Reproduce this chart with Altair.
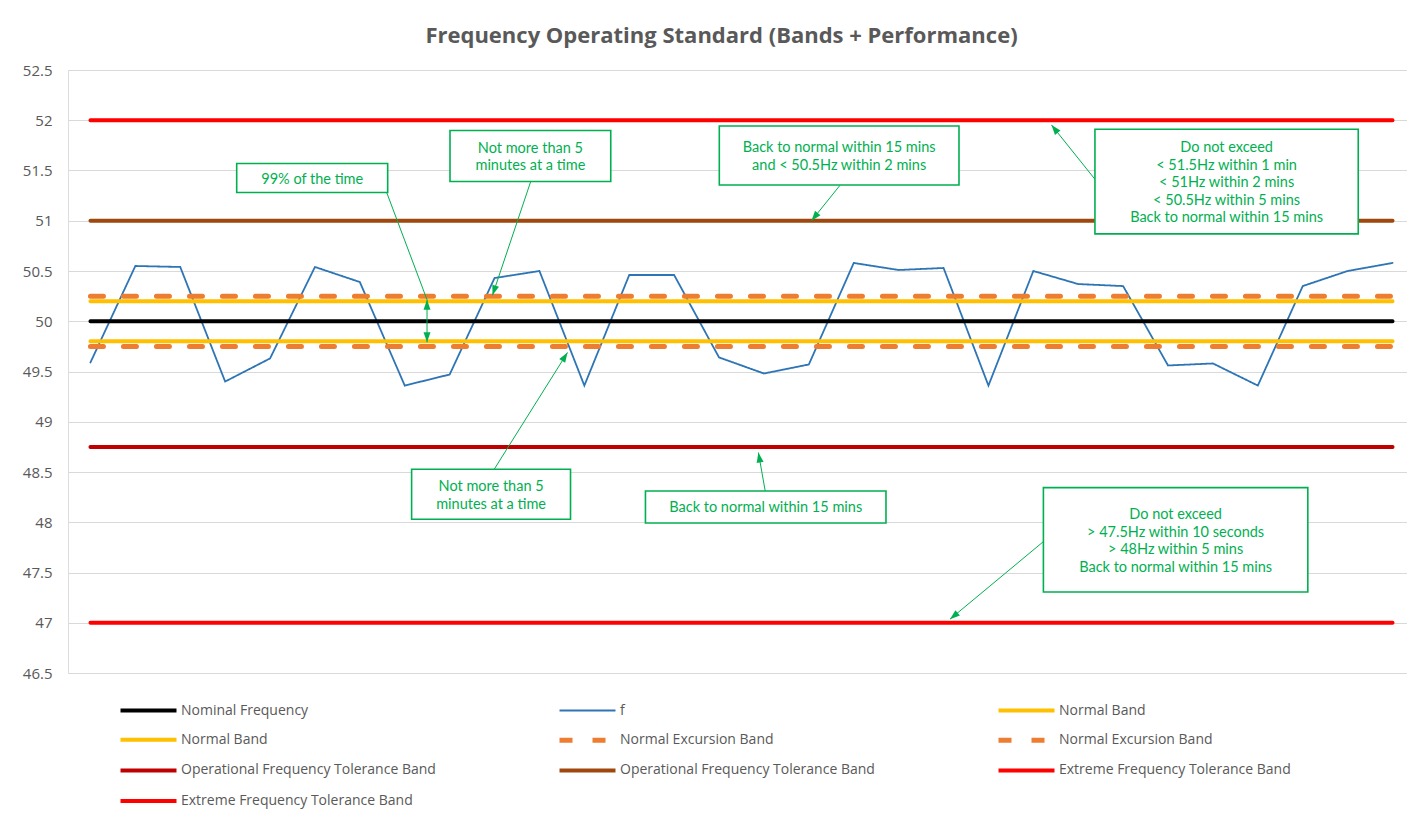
import math
import altair as alt
import pandas as pd

# ---------------- data ----------------
f_values = [49.59, 50.55, 50.54, 49.40, 49.63, 50.54, 50.39, 49.36, 49.47, 50.43,
            50.50, 49.36, 50.46, 50.46, 49.64, 49.48, 49.57, 50.58, 50.51, 50.53,
            49.36, 50.50, 50.37, 50.35, 49.56, 49.58, 49.36, 50.35, 50.50, 50.58]

series_keys = ["Nominal Frequency", "f", "Normal Band|1", "Normal Band|2",
               "Normal Excursion Band|1", "Normal Excursion Band|2",
               "Operational Frequency Tolerance Band|1", "Operational Frequency Tolerance Band|2",
               "Extreme Frequency Tolerance Band|1", "Extreme Frequency Tolerance Band|2"]
band_keys = ["Nominal Frequency", "Normal Band|1", "Normal Band|2",
             "Normal Excursion Band|1", "Normal Excursion Band|2",
             "Operational Frequency Tolerance Band|1", "Operational Frequency Tolerance Band|2",
             "Extreme Frequency Tolerance Band|1", "Extreme Frequency Tolerance Band|2"]
band_levels = [50.0, 50.2, 49.8, 50.25, 49.75, 48.75, 51.0, 52.0, 47.0]

series_colors = ["#000000", "#2E75B6", "#FFC000", "#FFC000", "#ED7D31", "#ED7D31",
                 "#C00000", "#9E480E", "#FF0000", "#FF0000"]
series_dash = [[1, 0], [1, 0], [1, 0], [1, 0], [13, 20], [13, 20],
               [1, 0], [1, 0], [1, 0], [1, 0]]
series_width = [4, 1.8, 4, 4, 5, 5, 4, 4, 4, 4]

y_ticks = [46.5, 47, 47.5, 48, 48.5, 49, 49.5, 50, 50.5, 51, 51.5, 52, 52.5]

# annotation boxes (x in category index units, y in Hz)
box_x1 = [3.257, 8.008, 14.006, 22.372, 7.153, 12.361, 21.224]
box_x2 = [6.620, 11.588, 19.344, 28.236, 10.692, 17.718, 27.113]
box_y1 = [51.569, 51.898, 51.943, 51.910, 48.527, 48.311, 48.345]
box_y2 = [51.281, 51.390, 51.356, 50.869, 48.030, 47.993, 47.306]
box_text = [
    "99% of the time",
    "Not more than 5\nminutes at a time",
    "Back to normal within 15 mins\nand < 50.5Hz within 2 mins",
    "Do not exceed\n< 51.5Hz within 1 min\n< 51Hz within 2 mins\n< 50.5Hz within 5 mins\nBack to normal within 15 mins",
    "Not more than 5\nminutes at a time",
    "Back to normal within 15 mins",
    "Do not exceed\n> 47.5Hz within 10 seconds\n> 48Hz within 5 mins\nBack to normal within 15 mins",
]

# arrows: start -> tip, head flag
arrow_x1 = [6.598, 7.496, 9.805, 16.694, 22.372, 8.992, 15.028, 21.215]
arrow_y1 = [51.281, 50.000, 51.390, 51.353, 51.413, 48.527, 48.311, 47.804]
arrow_x2 = [7.496, 7.496, 8.954, 16.059, 21.404, 10.625, 14.876, 19.143]
arrow_y2 = [50.214, 50.214, 50.259, 51.000, 51.953, 49.689, 48.694, 47.035]
arrow_head = [False, True, True, True, True, True, True, True]
# the double-headed arrow also points down
extra_head_x = [7.496]
extra_head_y = [49.790]
extra_head_from_y = [50.0]

PX_X = 44.9   # pixels per category (for arrow head orientation)
PX_Y = 100.5  # pixels per Hz
LINE_H = 17.5

# ---------------- frames ----------------
idx = list(range(len(f_values)))
f_df = pd.DataFrame({"i": idx, "v": f_values, "series": "f"})
band_rows = []
for k, lv in zip(band_keys, band_levels):
    for i in idx:
        band_rows.append({"i": i, "v": lv, "series": k})
band_df = pd.DataFrame(band_rows)

box_df = pd.DataFrame({"x1": box_x1, "x2": box_x2, "y1": box_y1, "y2": box_y2,
                       "text": box_text})
box_df["xc"] = (box_df.x1 + box_df.x2) / 2
nlines = box_df.text.str.count("\n")
box_df["yc"] = (box_df.y1 + box_df.y2) / 2 + nlines * LINE_H / 2 / PX_Y

arr_df = pd.DataFrame({"x1": arrow_x1, "y1": arrow_y1, "x2": arrow_x2, "y2": arrow_y2})


def head_angle(x1, y1, x2, y2):
    dx = (x2 - x1) * PX_X
    dy = -(y2 - y1) * PX_Y
    return math.degrees(math.atan2(dx, -dy)) % 360


heads = []
for x1, y1, x2, y2, h in zip(arrow_x1, arrow_y1, arrow_x2, arrow_y2, arrow_head):
    if h:
        heads.append({"x": x2, "y": y2, "a": head_angle(x1, y1, x2, y2)})
for hx, hy, fy in zip(extra_head_x, extra_head_y, extra_head_from_y):
    heads.append({"x": hx, "y": hy, "a": head_angle(hx, fy, hx, hy)})
head_df = pd.DataFrame(heads)

arr_df2 = pd.concat([arr_df, pd.DataFrame({"x1": extra_head_x, "y1": extra_head_from_y,
                                           "x2": extra_head_x, "y2": extra_head_y})])

# ---------------- chart ----------------
GREEN = "#00B050"
GRAY = "#595959"

x_scale = alt.Scale(domain=[-0.5, 29.322], nice=False, zero=False)
y_scale = alt.Scale(domain=[46.5, 52.5], nice=False, zero=False)
y_axis = alt.Axis(values=y_ticks, format="~g", title=None, grid=True, gridColor="#D9D9D9",
                  gridWidth=1, domain=False, ticks=False, labelPadding=16,
                  labelFont="Open Sans", labelFontSize=15, labelColor=GRAY)

legend = alt.Legend(title=None, orient="none", legendX=50, legendY=630, columns=3,
                    direction="horizontal",
                    symbolType="M-1,0H7", symbolSize=196, labelOffset=44,
                    labelExpr="split(datum.label, '|')[0]", labelFont="Open Sans",
                    labelFontSize=14, labelColor=GRAY, labelLimit=500,
                    columnPadding=113, rowPadding=9.7, gridAlign="all", padding=0)

enc_common = dict(
    x=alt.X("i:Q", scale=x_scale, axis=None),
    y=alt.Y("v:Q", scale=y_scale, axis=y_axis),
    color=alt.Color("series:N", scale=alt.Scale(domain=series_keys, range=series_colors),
                    legend=legend, sort=series_keys),
    strokeDash=alt.StrokeDash("series:N", scale=alt.Scale(domain=series_keys, range=series_dash),
                              legend=legend, sort=series_keys),
    strokeWidth=alt.StrokeWidth("series:N",
                                scale=alt.Scale(type="ordinal", domain=series_keys,
                                                range=series_width),
                                legend=legend, sort=series_keys),
)

f_line = alt.Chart(f_df).mark_line(strokeCap="round", strokeJoin="miter").encode(**enc_common)
band_lines = alt.Chart(band_df).mark_line(strokeCap="round").encode(
    detail="series:N", **enc_common)

arrows = alt.Chart(arr_df2).mark_rule(color=GREEN, strokeWidth=1).encode(
    x=alt.X("x1:Q", scale=x_scale, axis=None),
    y=alt.Y("y1:Q", scale=y_scale, axis=y_axis),
    x2="x2:Q", y2="y2:Q")

arrow_heads = alt.Chart(head_df).mark_point(
    shape="M0,0L-0.7,2L0.7,2Z", filled=True, size=100, color=GREEN, opacity=1,
    strokeWidth=0).encode(
    x=alt.X("x:Q", scale=x_scale, axis=None),
    y=alt.Y("y:Q", scale=y_scale, axis=y_axis),
    angle=alt.Angle("a:Q", scale=None))

boxes = alt.Chart(box_df).mark_rect(fill="white", stroke=GREEN, strokeWidth=1.6).encode(
    x=alt.X("x1:Q", scale=x_scale, axis=None),
    y=alt.Y("y1:Q", scale=y_scale, axis=y_axis),
    x2="x2:Q", y2="y2:Q")

box_labels = alt.Chart(box_df).mark_text(
    lineBreak="\n", align="center", baseline="middle", font="Lato", fontSize=14.5,
    color=GREEN, lineHeight=LINE_H, dy=1.5).encode(
    x=alt.X("xc:Q", scale=x_scale, axis=None),
    y=alt.Y("yc:Q", scale=y_scale, axis=y_axis),
    text="text:N")

chart = alt.layer(f_line, band_lines, arrows, boxes, box_labels, arrow_heads).properties(
    width=1339, height=603,
    autosize=alt.AutoSizeParams(type="none"),
    padding={"left": 60, "top": 62, "right": 0, "bottom": 138},
    title=alt.Title("Frequency Operating Standard (Bands + Performance)", font="Open Sans",
                    fontSize=22, fontWeight="bold", color=GRAY, anchor="middle",
                    offset=15, dx=-16),
).configure_view(stroke=None).configure(background="white")

chart.save("out.html", embed_options={"renderer": "svg", "actions": False})
